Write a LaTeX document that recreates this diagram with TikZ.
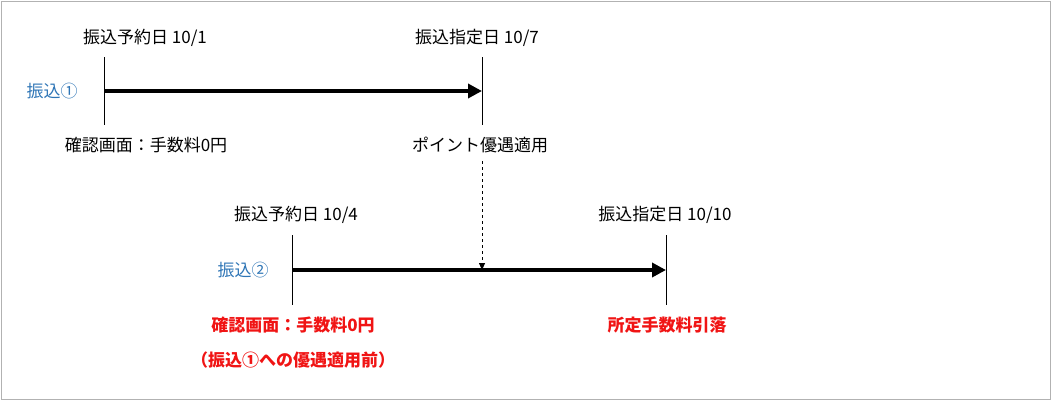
\documentclass[tikz,border=0pt]{standalone}
\usepackage{fontspec}
\setmainfont{Noto Sans CJK JP}
\usetikzlibrary{arrows.meta}
\definecolor{jblue}{RGB}{46,117,182}
\definecolor{jred}{RGB}{240,20,20}
\begin{document}
\begin{tikzpicture}[x=1pt,y=-1pt,
  lbl/.style={font=\fontsize{17}{20}\selectfont,inner sep=0pt,anchor=center},
  blu/.style={lbl,text=jblue},
  rd/.style={lbl,text=jred,font=\fontsize{17}{20}\selectfont\bfseries},
  tick/.style={line width=1pt},
  main/.style={line width=4.5pt,-{Triangle[length=14pt,width=14pt]}},
  dsh/.style={dashed,line width=0.8pt,-{Triangle[length=7pt,width=6pt]}}]
\useasboundingbox (0,0) rectangle (1051,400);
\draw[gray!60,line width=1pt] (1,1) rectangle (1050,399);
% row 1
\coordinate (a1t) at (104,57); \coordinate (a1b) at (104,125);
\coordinate (b1t) at (482,57); \coordinate (b1b) at (482,125);
\coordinate (a1) at (104,91); \coordinate (b1) at (482,91);
\draw[tick] (a1t) -- (a1b);
\draw[tick] (b1t) -- (b1b);
\draw[main] (a1) -- (b1);
\node[lbl] (l1) at (145,38) {振込予約日 10/1};
\node[lbl] (l2) at (477,38) {振込指定日 10/7};
\node[blu] (f1) at (52,91) {振込①};
\node[lbl] (c1) at (146,145) {確認画面：手数料0円};
\node[lbl] (p1) at (480,145) {ポイント優遇適用};
% row 2
\coordinate (a2t) at (292,235); \coordinate (a2b) at (292,305);
\coordinate (b2t) at (666,235); \coordinate (b2b) at (666,305);
\coordinate (a2) at (292,270); \coordinate (b2) at (666,270);
\coordinate (d2) at (482,270);
\draw[tick] (a2t) -- (a2b);
\draw[tick] (b2t) -- (b2b);
\draw[main] (a2) -- (b2);
\draw[dsh] (p1.south -| d2) ++(0,8) -- (d2);
\node[lbl] (l3) at (296,215) {振込予約日 10/4};
\node[lbl] (l4) at (665,215) {振込指定日 10/10};
\node[blu] (f2) at (243,270) {振込②};
\node[rd] (r1) at (293,325) {確認画面：手数料0円};
\node[rd] (r2) at (293,360) {（振込①への優遇適用前）};
\node[rd] (r3) at (667,325) {所定手数料引落};
\end{tikzpicture}
\end{document}
